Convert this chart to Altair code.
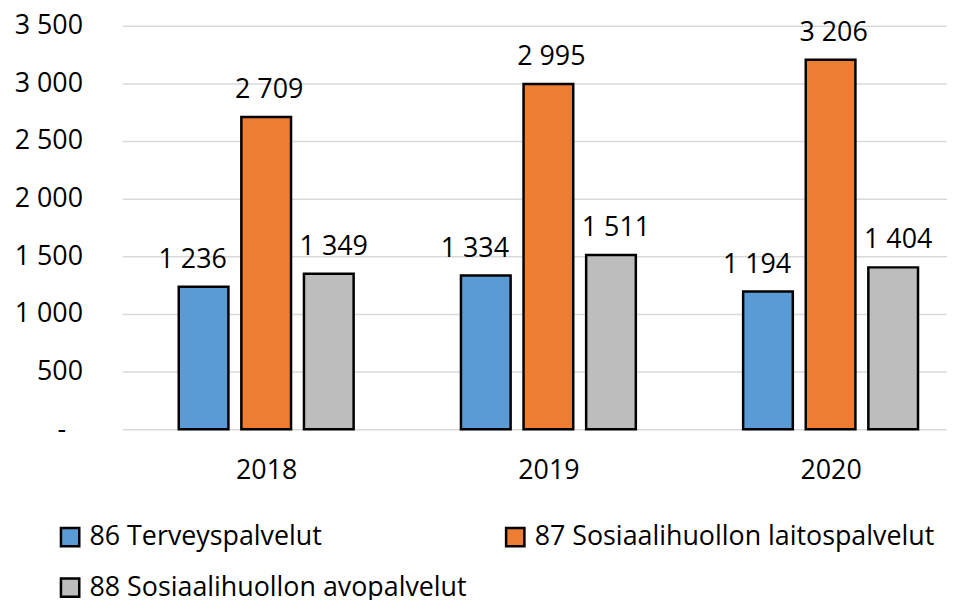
import altair as alt
import pandas as pd

years = [2018, 2019, 2020]
series = ["86 Terveyspalvelut", "87 Sosiaalihuollon laitospalvelut", "88 Sosiaalihuollon avopalvelut"]
terveys = [1236, 1334, 1194]
laitos = [2709, 2995, 3206]
avo = [1349, 1511, 1404]
colors = ["#5B9BD5", "#ED7D31", "#BDBDBD"]
y_ticks = [0, 500, 1000, 1500, 2000, 2500, 3000, 3500]

rows = []
for i, y in enumerate(years):
    for k, (s, vals) in enumerate(zip(series, [terveys, laitos, avo])):
        rows.append({"year": y, "series": s, "k": k, "value": vals[i]})
df = pd.DataFrame(rows)

W = 830
H = 406
STEP = 284.0
FONT = "Open Sans"
FS = 27
X0 = 2017.49

base = alt.Chart(df).transform_calculate(
    xpos=f"datum.year + (datum.k - 1) * 63 / {STEP}",
    label="replace(format(datum.value, ','), ',', ' ')",
)

xscale = alt.Scale(domain=[X0, X0 + W / STEP], nice=False, zero=False, padding=0)
yscale = alt.Scale(domain=[0, 3500], nice=False)

bars = base.mark_bar(size=50, stroke="black", strokeWidth=2.5).encode(
    x=alt.X("xpos:Q", scale=xscale,
            axis=alt.Axis(values=years, format="d", title=None, grid=False, ticks=False,
                          domain=False, labelPadding=29, labelFontSize=FS, labelFont=FONT,
                          labelColor="black")),
    y=alt.Y("value:Q", scale=yscale,
            axis=alt.Axis(values=y_ticks, title=None, ticks=False, domain=False,
                          labelPadding={"condition": {"test": "datum.value === 0", "value": 57}, "value": 40},
                          labelFontSize=FS, labelFont=FONT, labelColor="black",
                          gridColor="#d9d9d9", gridWidth=1.5,
                          labelExpr="datum.value == 0 ? '-' : replace(format(datum.value, ','), ',', ' ')")),
    color=alt.Color("series:N", scale=alt.Scale(domain=series, range=colors),
                    legend=alt.Legend(title=None, orient="none", legendX=-66, legendY=95 + H,
                                      columns=2, direction="horizontal", columnPadding=34,
                                      rowPadding=22, symbolType="square", symbolSize=340,
                                      symbolStrokeColor="black", symbolStrokeWidth=2.5,
                                      symbolOpacity=1, labelFont=FONT, labelFontSize=FS,
                                      labelColor="black", labelOffset=6, padding=0,
                                      labelLimit=0)),
)

shifts = [-11, 3, 5]
texts = []
for k, s in enumerate(series):
    texts.append(
        base.transform_filter(alt.datum.k == k).mark_text(
            baseline="alphabetic", align="center", dy=-19, dx=shifts[k],
            font=FONT, fontSize=FS, color="black"
        ).encode(x=alt.X("xpos:Q", scale=xscale), y=alt.Y("value:Q", scale=yscale), text="label:N")
    )

chart = alt.layer(bars, *texts).properties(
    width=W, height=H,
    autosize=alt.AutoSizeParams(type="none"),
    padding={"left": 115, "top": 16, "right": 0, "bottom": 170},
).configure_view(stroke=None)

chart.save("out.html", embed_options={"renderer": "svg", "actions": False})
